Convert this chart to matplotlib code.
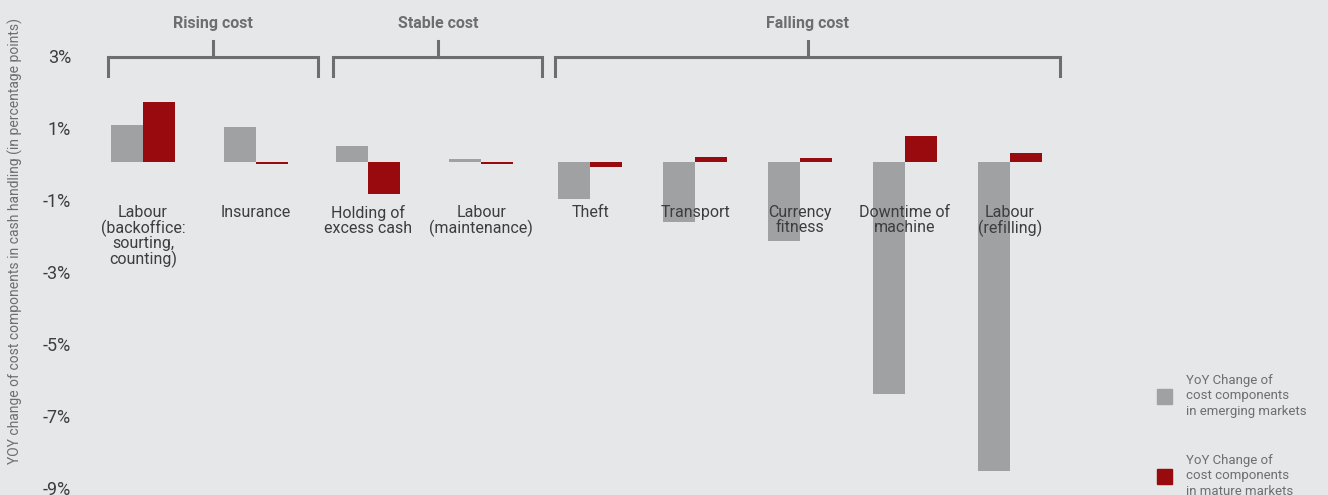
import numpy as np
import matplotlib.pyplot as plt
import matplotlib.transforms as mtransforms
from matplotlib.patches import Rectangle

plt.rcParams['font.family'] = ['Roboto', 'DejaVu Sans']

# data
categories = ["Labour\n(backoffice:\nsourting,\ncounting)", "Insurance", "Holding of\nexcess cash",
              "Labour\n(maintenance)", "Theft", "Transport", "Currency\nfitness",
              "Downtime of\nmachine", "Labour\n(refilling)"]
emerging = [1.03, 0.97, 0.44, 0.08, -1.03, -1.68, -2.19, -6.44, -8.58]
mature = [1.67, -0.05, -0.88, -0.05, -0.14, 0.14, 0.10, 0.72, 0.25]
groups = ["Rising cost", "Stable cost", "Falling cost"]
group_span = [(0, 1), (2, 3), (4, 8)]
yticks = [3, 1, -1, -3, -5, -7, -9]
legend_labels = ["YoY Change of\ncost components\nin emerging markets",
                 "YoY Change of\ncost components\nin mature markets"]

bg = '#e6e7e8'
c_grey = '#a0a1a3'
c_red = '#990a0e'
c_text = '#3d3d3f'
c_head = '#6d6e70'

fig = plt.figure(figsize=(13.28, 4.95), dpi=100)
fig.patch.set_facecolor(bg)
ax = fig.add_axes([85 / 1328, 0, 1 - 85 / 1328, 1])
ax.set_facecolor(bg)

# layout: first four slots evenly spaced, the falling-cost ones a bit tighter
pos = np.concatenate([np.arange(4), 3.97 + 0.93 * np.arange(5)])
w = 0.284

ax.bar(pos - w / 2, emerging, w, color=c_grey)
ax.bar(pos + w / 2, mature, w, color=c_red)

ax.set_xlim((85 - 143) / 112.7, (1328 - 143) / 112.7)
ax.set_ylim(-9.25, 4.5)
ax.set_xticks([])
ax.set_yticks(yticks)
ax.set_yticklabels([f"{v}%" for v in yticks])
ax.tick_params(axis='y', length=0, pad=10, labelsize=13, labelcolor=c_text)
shift = mtransforms.ScaledTranslation(0, -2 / 100, fig.dpi_scale_trans)
for lab in ax.get_yticklabels():
    lab.set_transform(lab.get_transform() + shift)
for s in ax.spines.values():
    s.set_visible(False)

for p, cat in zip(pos, categories):
    ax.text(p, -1.2, cat, ha='center', va='top', fontsize=11.5, color=c_text, linespacing=0.95)

# group brackets
right_pad = [0.55, 0.54, 0.45]
for name, (a, b), rp in zip(groups, group_span, right_pad):
    left = pos[a] - 0.31
    right = pos[b] + rp
    mid = (left + right) / 2
    ax.plot([left, left, right, right], [2.40, 2.92, 2.92, 2.40], color=c_head, lw=2.2,
            solid_joinstyle='miter', clip_on=False)
    ax.plot([mid, mid], [2.92, 3.36], color=c_head, lw=2.2, clip_on=False)
    ax.text(mid, 3.84, name, ha='center', va='center', fontsize=11.5, fontweight='bold', color=c_head)

fig.text(15 / 1328, 1 - 241 / 495, "YOY change of cost components in cash handling (in percentage points)",
         rotation=90, ha='center', va='center', fontsize=10, color=c_head)

# legend drawn by hand
for i, (lab, col) in enumerate(zip(legend_labels, [c_grey, c_red])):
    top = 389 + i * 80
    fig.patches.append(Rectangle((1157 / 1328, 1 - (top + 15) / 495), 15 / 1328, 15 / 495,
                                 transform=fig.transFigure, color=col))
    fig.text(1186 / 1328, 1 - (top + 7) / 495, lab, ha='left', va='center', fontsize=9.5,
             color=c_head, linespacing=1.25)

fig.savefig('out.png', dpi=100, facecolor=bg)
